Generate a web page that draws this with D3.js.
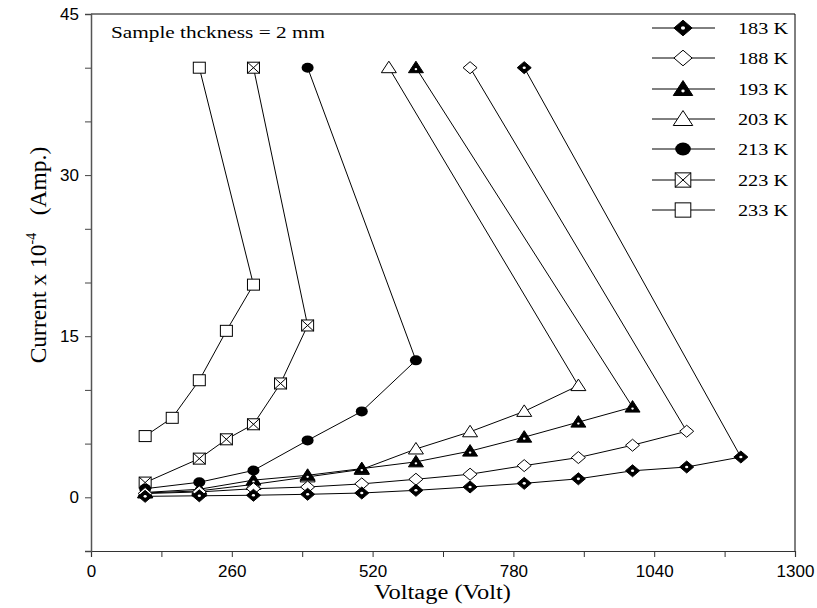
<!DOCTYPE html>
<html>
<head>
<meta charset="utf-8">
<script src="https://cdn.jsdelivr.net/npm/d3@7"></script>
<style>
  html, body { margin: 0; padding: 0; background: #fff; }
  svg { display: block; }
</style>
</head>
<body>
<svg id="chart" width="817" height="608"></svg>
<script>
// ---- data ----
const seriesNames = ["183 K", "188 K", "193 K", "203 K", "213 K", "223 K", "233 K"];
const markerKinds = ["diamondFilled", "diamondOpen", "triangleFilled", "triangleOpen", "circleFilled", "squareX", "squareOpen"];

const v183 = [100, 200, 300, 400, 500, 600, 700, 800, 900, 1000, 1100, 1200, 800];
const i183 = [0.09, 0.14, 0.19, 0.28, 0.4, 0.65, 0.96, 1.3, 1.72, 2.47, 2.82, 3.75, 40];

const v188 = [100, 200, 300, 400, 500, 600, 700, 800, 900, 1000, 1100, 700];
const i188 = [0.35, 0.5, 0.8, 0.96, 1.25, 1.68, 2.15, 2.95, 3.7, 4.85, 6.15, 40];

const v193 = [100, 200, 300, 400, 500, 600, 700, 800, 900, 1000, 600];
const i193 = [0.45, 0.75, 1.6, 2.05, 2.67, 3.3, 4.3, 5.6, 7.0, 8.4, 40];

const v203 = [100, 200, 300, 400, 500, 600, 700, 800, 900, 550];
const i203 = [0.4, 0.6, 1.2, 1.9, 2.6, 4.5, 6.1, 8.0, 10.4, 40];

const v213 = [100, 200, 300, 400, 500, 600, 400];
const i213 = [0.8, 1.4, 2.5, 5.3, 8.0, 12.75, 40];

const v223 = [100, 200, 250, 300, 350, 400, 300];
const i223 = [1.37, 3.6, 5.4, 6.8, 10.6, 16.0, 40];

const v233 = [100, 150, 200, 250, 300, 200];
const i233 = [5.7, 7.4, 10.9, 15.5, 19.8, 40];

const xTickLabels = [0, 260, 520, 780, 1040, 1300];
const yTickLabels = [0, 15, 30, 45];

const allV = [v183, v188, v193, v203, v213, v223, v233];
const allI = [i183, i188, i193, i203, i213, i223, i233];

// ---- layout ----
const svg = d3.select("#chart");
const pL = 91, pR = 795, pT = 14, pB = 551;
const x = d3.scaleLinear().domain([0, 1300]).range([pL, pR]);
const y = d3.scaleLinear().domain([-5, 45]).range([pB, pT]);
const serif = "Liberation Serif, Times New Roman, serif";
const sans = "Liberation Sans, Arial, sans-serif";

// frame (top & right)
svg.append("path")
  .attr("d", `M${pL},${pT}H${pR}V${pB}`)
  .attr("fill", "none").attr("stroke", "#000").attr("stroke-width", 1);

// x axis
const xAxis = d3.axisBottom(x).tickValues(d3.range(0, 1301, 130))
  .tickSize(6).tickFormat(d => xTickLabels.includes(d) ? d : "");
const gx = svg.append("g").attr("transform", `translate(0,${pB})`).call(xAxis);
gx.select(".domain").attr("stroke", "#333").attr("stroke-width", 1.2);
gx.selectAll(".tick line").attr("stroke", "#333");
gx.selectAll(".tick text").attr("font-family", sans)
  .attr("font-size", 17).attr("fill", "#000").attr("y", 12).attr("dy", "0.85em");

// y axis
const yAxis = d3.axisLeft(y).tickValues(d3.range(-5, 46, 5))
  .tickSize(6).tickFormat(d => yTickLabels.includes(d) ? d : "");
const gy = svg.append("g").attr("transform", `translate(${pL},0)`).call(yAxis);
gy.select(".domain").attr("stroke", "#555").attr("stroke-width", 1.5);
gy.selectAll(".tick line").attr("stroke", "#444");
gy.selectAll(".tick text").attr("font-family", sans)
  .attr("font-size", 17).attr("fill", "#000").attr("x", -12);

// axis titles
svg.append("text").attr("x", 374).attr("y", 599)
  .attr("font-family", serif).attr("font-size", 20)
  .attr("textLength", 137).attr("lengthAdjust", "spacingAndGlyphs")
  .text("Voltage (Volt)");

const yl = svg.append("text").attr("transform", "translate(46,255) rotate(-90)")
  .attr("text-anchor", "middle")
  .attr("font-family", serif).attr("font-size", 23.5);
yl.append("tspan").text("Current x 10");
yl.append("tspan").attr("dy", -10).attr("font-size", 14).text("-4");
yl.append("tspan").attr("dy", 10).text("\u00a0\u00a0 (Amp.)");

svg.append("text").attr("x", 111).attr("y", 38)
  .attr("font-family", serif).attr("font-size", 17.5)
  .attr("textLength", 214).attr("lengthAdjust", "spacingAndGlyphs")
  .text("Sample thckness = 2 mm");

// ---- markers ----
function drawMarker(g, kind, sc) {
  const sx = 7 * sc, sy = 6 * sc;
  if (kind === "diamondFilled" || kind === "diamondOpen") {
    g.append("path").attr("d", `M0,${-sy}L${sx},0L0,${sy}L${-sx},0Z`)
      .attr("fill", kind === "diamondFilled" ? "#000" : "#fff")
      .attr("stroke", "#000").attr("stroke-width", 1);
    if (kind === "diamondFilled") g.append("ellipse").attr("rx", 1.6 * sc).attr("ry", 1.3 * sc).attr("fill", "#fff");
  } else if (kind === "triangleFilled" || kind === "triangleOpen") {
    const w = 7.5 * sc, t = 6.5 * sc, b = 5 * sc;
    g.append("path").attr("d", `M0,${-t}L${w},${b}L${-w},${b}Z`)
      .attr("fill", kind === "triangleFilled" ? "#000" : "#fff")
      .attr("stroke", "#000").attr("stroke-width", 1);
    if (kind === "triangleFilled") g.append("ellipse").attr("cy", 1.5 * sc).attr("rx", 1.3 * sc).attr("ry", 1.1 * sc).attr("fill", "#fff");
  } else if (kind === "circleFilled") {
    g.append("ellipse").attr("rx", 6 * sc).attr("ry", 5 * sc).attr("fill", "#000");
  } else if (kind === "squareOpen" || kind === "squareX") {
    const hx = 6 * sc, hy = 5.5 * sc;
    g.append("rect").attr("x", -hx).attr("y", -hy).attr("width", 2 * hx).attr("height", 2 * hy)
      .attr("fill", "#fff").attr("stroke", "#000").attr("stroke-width", 1);
    if (kind === "squareX") {
      g.append("path").attr("d", `M${-hx},${-hy}L${hx},${hy}M${hx},${-hy}L${-hx},${hy}`)
        .attr("stroke", "#000").attr("stroke-width", 1);
    }
  }
}

const line = d3.line().x(d => x(d[0])).y(d => y(d[1]));

// draw series (reverse order so low-temperature markers sit on top)
for (let k = allV.length - 1; k >= 0; k--) {
  const pts = allV[k].map((v, j) => [v, allI[k][j]]);
  svg.append("path").datum(pts).attr("d", line)
    .attr("fill", "none").attr("stroke", "#000").attr("stroke-width", 1);
  const g = svg.append("g");
  pts.forEach(p => {
    const m = g.append("g").attr("transform", `translate(${x(p[0])},${y(p[1])})`);
    drawMarker(m, markerKinds[k], 1);
  });
}

// ---- legend ----
const legendY = [28, 58, 89, 119, 149, 180, 210];
seriesNames.forEach((name, k) => {
  const ly = legendY[k];
  svg.append("line").attr("x1", 652).attr("x2", 715).attr("y1", ly).attr("y2", ly)
    .attr("stroke", "#000").attr("stroke-width", 1);
  const m = svg.append("g").attr("transform", `translate(683,${ly})`);
  drawMarker(m, markerKinds[k], 1.3);
  svg.append("text").attr("x", 738).attr("y", ly + 5.5)
    .attr("font-family", serif).attr("font-size", 16)
    .attr("textLength", 50).attr("lengthAdjust", "spacingAndGlyphs")
    .text(name);
});
</script>
</body>
</html>
